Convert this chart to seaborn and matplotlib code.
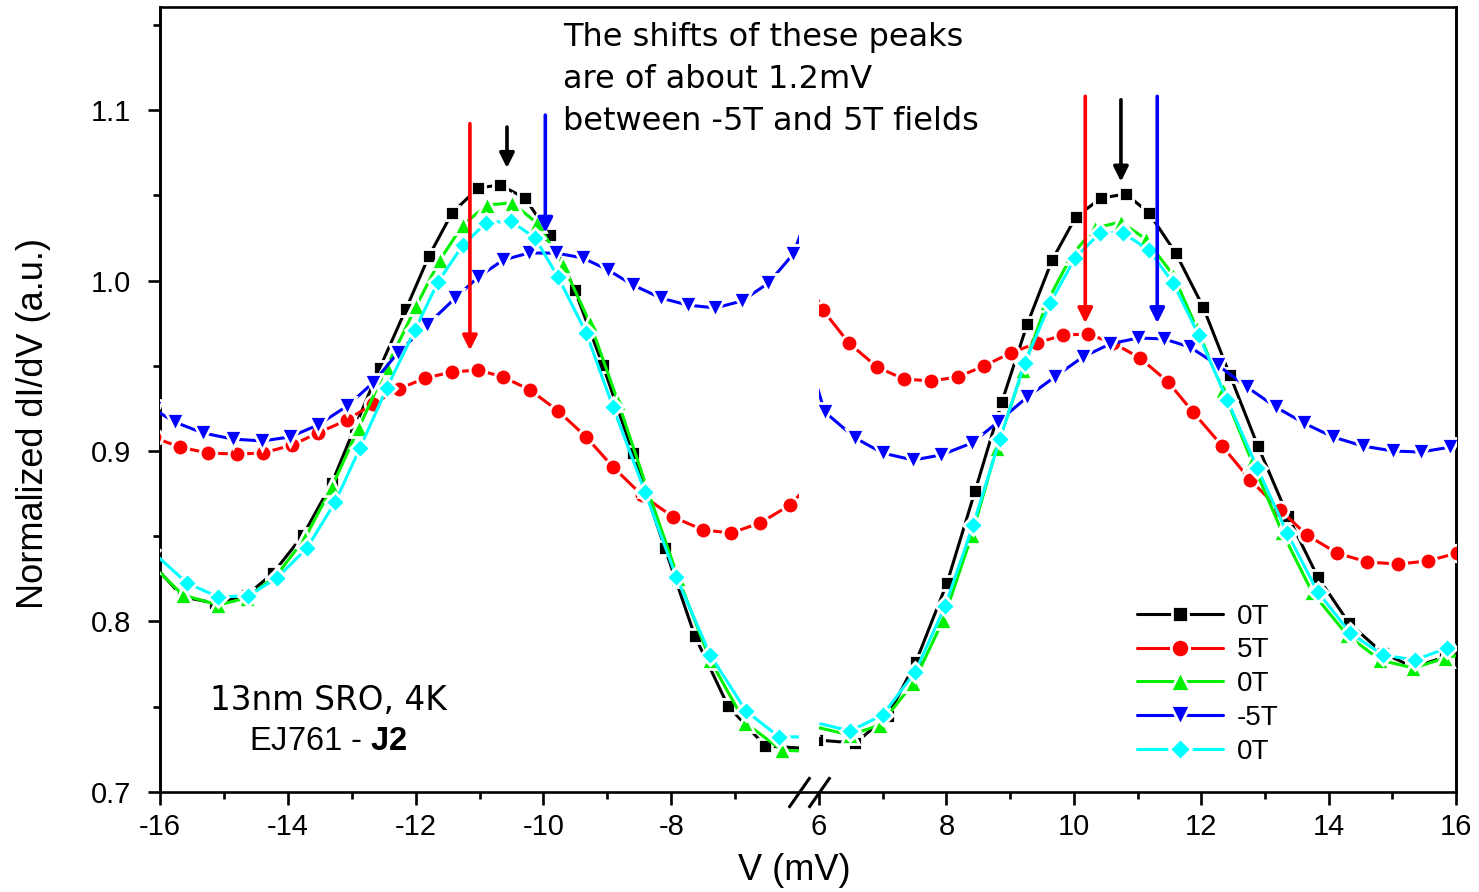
import matplotlib
matplotlib.use("Agg")
import matplotlib.pyplot as plt
import seaborn as sns
import numpy as np

# ---------------- data ----------------
# series 1: 0T (black squares)
v_black_neg = [-16.15, -15.64, -15.14, -14.64, -14.23, -13.76, -13.31, -12.95, -12.56, -12.15, -11.79, -11.43,
               -11.02, -10.68, -10.29, -9.90, -9.51, -9.07, -8.60, -8.10, -7.63, -7.11, -6.53, -5.85]
g_black_neg = [0.835, 0.8144, 0.8108, 0.8155, 0.8284, 0.8507, 0.8812, 0.914, 0.9487, 0.9833, 1.0144, 1.0396,
               1.0543, 1.056, 1.0484, 1.0267, 0.9944, 0.9504, 0.8988, 0.8431, 0.7915, 0.7504, 0.727, 0.7255]
v_black_pos = [5.97, 6.57, 7.08, 7.52, 8.01, 8.45, 8.87, 9.27, 9.66, 10.03, 10.43, 10.82, 11.18, 11.60, 12.03,
               12.45, 12.89, 13.36, 13.83, 14.32, 14.85, 15.33, 15.83, 16.25]
g_black_pos = [0.7305, 0.7287, 0.7446, 0.7762, 0.8226, 0.8765, 0.9287, 0.9745, 1.012, 1.0372, 1.0484, 1.0507,
               1.0396, 1.0161, 0.9845, 0.9446, 0.9029, 0.8619, 0.8261, 0.7991, 0.7815, 0.7733, 0.7792, 0.782]

# series 2: 5T (red circles)
v_red_neg = [-16.1, -15.69, -15.25, -14.80, -14.39, -13.93, -13.53, -13.07, -12.67, -12.26, -11.85, -11.43,
             -11.02, -10.63, -10.21, -9.77, -9.33, -8.91, -8.46, -7.97, -7.50, -7.06, -6.61, -6.14, -5.7]
g_red_neg = [0.908, 0.9023, 0.8988, 0.8982, 0.8988, 0.9035, 0.9106, 0.9182, 0.9276, 0.9364, 0.9428, 0.9463,
             0.9475, 0.9434, 0.9358, 0.9235, 0.9082, 0.8906, 0.8742, 0.8613, 0.8537, 0.8519, 0.8578, 0.8683, 0.886]
v_red_pos = [5.7, 6.06, 6.47, 6.91, 7.33, 7.76, 8.18, 8.59, 9.01, 9.42, 9.83, 10.22, 10.62, 11.04, 11.48, 11.87,
             12.33, 12.77, 13.24, 13.66, 14.13, 14.60, 15.09, 15.56, 16.02]
g_red_pos = [1.01, 0.9827, 0.9633, 0.9493, 0.9422, 0.9411, 0.9434, 0.9499, 0.9575, 0.9633, 0.968, 0.9686, 0.9633,
             0.9545, 0.9405, 0.9229, 0.9029, 0.883, 0.8654, 0.8507, 0.8402, 0.8349, 0.8337, 0.8355, 0.8402]

# series 3: 0T (green up-triangles)
v_green_neg = [-16.15, -15.64, -15.09, -14.64, -14.17, -13.73, -13.31, -12.89, -12.45, -11.99, -11.62, -11.26,
               -10.88, -10.49, -10.10, -9.69, -9.27, -8.83, -8.38, -7.89, -7.39, -6.84, -6.27, -5.7]
g_green_neg = [0.834, 0.8155, 0.8097, 0.8138, 0.8273, 0.849, 0.8789, 0.9135, 0.9493, 0.985, 1.012, 1.0326,
               1.0443, 1.0455, 1.0337, 1.009, 0.975, 0.9287, 0.8783, 0.8255, 0.7774, 0.7405, 0.7246, 0.7235]
v_green_pos = [5.85, 6.49, 6.96, 7.48, 7.95, 8.40, 8.79, 9.20, 9.58, 9.97, 10.33, 10.74, 11.13, 11.56, 11.93,
               12.34, 12.80, 13.27, 13.74, 14.29, 14.81, 15.33, 15.83, 16.25]
g_green_pos = [0.739, 0.7334, 0.7393, 0.7639, 0.8009, 0.8507, 0.9018, 0.9475, 0.9874, 1.0149, 1.0308, 1.0343,
               1.0243, 1.0032, 0.9721, 0.9358, 0.8935, 0.8525, 0.8173, 0.7921, 0.7774, 0.7727, 0.7786, 0.782]

# series 4: -5T (blue down-triangles)
v_blue_neg = [-16.1, -15.77, -15.33, -14.86, -14.40, -13.97, -13.53, -13.07, -12.67, -12.28, -11.82, -11.38,
              -11.02, -10.63, -10.23, -9.80, -9.38, -8.99, -8.60, -8.16, -7.74, -7.31, -6.89, -6.48, -6.09, -5.8]
g_blue_neg = [0.9246, 0.917, 0.9106, 0.907, 0.9059, 0.9082, 0.9152, 0.9264, 0.9399, 0.9575, 0.9739, 0.9897,
              1.002, 1.012, 1.0161, 1.0161, 1.0132, 1.0062, 0.9974, 0.9897, 0.9856, 0.9839, 0.988, 0.9985,
              1.0155, 1.045]
v_blue_pos = [5.8, 6.09, 6.57, 7.0, 7.48, 7.92, 8.40, 8.81, 9.27, 9.70, 10.14, 10.57, 11.01, 11.42, 11.82, 12.26,
              12.72, 13.17, 13.61, 14.07, 14.54, 15.01, 15.45, 15.91]
g_blue_pos = [0.959, 0.9229, 0.9076, 0.8988, 0.8947, 0.8977, 0.9047, 0.917, 0.9317, 0.9434, 0.9551, 0.9628,
              0.9663, 0.9657, 0.961, 0.9504, 0.9375, 0.9258, 0.9164, 0.9082, 0.9029, 0.9, 0.8994, 0.9023]

# series 5: 0T (cyan diamonds)
v_cyan_neg = [-16.15, -15.58, -15.09, -14.62, -14.17, -13.70, -13.26, -12.87, -12.45, -12.01, -11.65, -11.26,
              -10.90, -10.51, -10.13, -9.77, -9.33, -8.91, -8.41, -7.92, -7.39, -6.83, -6.31, -5.7]
g_cyan_neg = [0.842, 0.8226, 0.8144, 0.815, 0.8255, 0.8431, 0.870, 0.9018, 0.937, 0.971, 0.9991, 1.0208,
              1.0337, 1.0349, 1.0249, 1.002, 0.9692, 0.9258, 0.876, 0.8261, 0.7804, 0.7475, 0.7323, 0.7323]
v_cyan_pos = [5.85, 6.49, 7.0, 7.51, 7.98, 8.42, 8.84, 9.23, 9.63, 10.02, 10.41, 10.77, 11.18, 11.56, 11.96,
              12.41, 12.88, 13.35, 13.83, 14.34, 14.85, 15.36, 15.86, 16.3]
g_cyan_pos = [0.7416, 0.7358, 0.7452, 0.7704, 0.8091, 0.8566, 0.907, 0.9516, 0.9868, 1.0132, 1.0279, 1.0279,
              1.0179, 0.9985, 0.968, 0.9299, 0.89, 0.8519, 0.8173, 0.7933, 0.7804, 0.7774, 0.7845, 0.790]

labels = ["0T", "5T", "0T", "-5T", "0T"]
colors = ["#000000", "#ff0000", "#00f000", "#0000ff", "#00ffff"]
markers = ["s", "o", "^", "v", "D"]
msizes = [10.5, 12.0, 12.5, 12.5, 10.5]

neg_x = [v_black_neg, v_red_neg, v_green_neg, v_blue_neg, v_cyan_neg]
neg_y = [g_black_neg, g_red_neg, g_green_neg, g_blue_neg, g_cyan_neg]
pos_x = [v_black_pos, v_red_pos, v_green_pos, v_blue_pos, v_cyan_pos]
pos_y = [g_black_pos, g_red_pos, g_green_pos, g_blue_pos, g_cyan_pos]

# peak-shift arrows: (x, y_start, y_tip, color)
arrows_neg = [(-11.15, 1.092, 0.959, "#ff0000"), (-10.57, 1.090, 1.066, "#000000"), (-9.97, 1.097, 1.028, "#0000ff")]
arrows_pos = [(10.18, 1.108, 0.975, "#ff0000"), (10.74, 1.106, 1.058, "#000000"), (11.31, 1.108, 0.975, "#0000ff")]

xticks_neg = [-16, -14, -12, -10, -8]
xticks_pos = [6, 8, 10, 12, 14, 16]
yticks = [0.7, 0.8, 0.9, 1.0, 1.1]

# ---------------- style ----------------
sns.set_theme(style="ticks")
plt.rcParams["font.family"] = ["Liberation Sans", "DejaVu Sans"]
plt.rcParams["mathtext.fontset"] = "custom"
plt.rcParams["mathtext.rm"] = "Liberation Sans"
plt.rcParams["mathtext.bf"] = "Liberation Sans:bold"
plt.rcParams["axes.unicode_minus"] = False
for k in ("text.color", "axes.labelcolor", "xtick.color", "ytick.color", "axes.edgecolor"):
    plt.rcParams[k] = "black"

fig = plt.figure(figsize=(14.79, 8.92), dpi=100)
W, Hpx = 1479.0, 892.0
left_px, gapL_px, gapR_px, right_px = 160, 799, 819, 1456
top_px, bot_px = 7, 792
B = 1 - bot_px / Hpx
H = (bot_px - top_px) / Hpx

frame = fig.add_axes([left_px / W, B, (right_px - left_px) / W, H], zorder=0)
frame.set_xticks([]); frame.set_yticks([])
frame.set_facecolor("white")
for s in frame.spines.values():
    s.set_linewidth(1.9); s.set_color("black")

axL = fig.add_axes([left_px / W, B, (gapL_px - left_px) / W, H], zorder=2)
axR = fig.add_axes([gapR_px / W, B, (right_px - gapR_px) / W, H], zorder=2, sharey=axL)
for ax in (axL, axR):
    ax.set_facecolor("none")
    for s in ax.spines.values():
        s.set_visible(False)
        s.set_linewidth(1.9)
axL.spines["left"].set_visible(True)
axR.spines["right"].set_visible(True)

lw = 2.2
for i in range(5):
    for ax, xs, ys in ((axL, neg_x[i], neg_y[i]), (axR, pos_x[i], pos_y[i])):
        sns.lineplot(x=xs, y=ys, ax=ax, color=colors[i], marker=markers[i], markersize=msizes[i],
                     markeredgecolor="white", markeredgewidth=2.0, linewidth=lw,
                     estimator=None, sort=False, label=labels[i] if ax is axR else None,
                     legend=False, zorder=3 + i)

axL.set_xlim(-16, -6.0)
axR.set_xlim(6.0, 16)
axL.set_ylim(0.7, 0.7 + (bot_px - top_px) / 1705.0)

axL.set_xticks(xticks_neg)
axL.set_xticks(np.arange(-15, -6, 2), minor=True)
axR.set_xticks(xticks_pos)
axR.set_xticks(np.arange(7, 16, 2), minor=True)
axL.set_yticks(yticks)
axL.set_yticks([0.75, 0.85, 0.95, 1.05, 1.15], minor=True)
axL.set_yticklabels(["0.7", "0.8", "0.9", "1.0", "1.1"])

for ax in (axL, axR):
    ax.tick_params(axis="x", which="major", direction="out", length=9, width=1.9, labelsize=21, pad=6,
                   bottom=True)
    ax.tick_params(axis="x", which="minor", direction="out", length=5, width=1.9, bottom=True)
axL.tick_params(axis="y", which="major", direction="out", length=9, width=1.9, labelsize=21, pad=12, left=True)
axL.tick_params(axis="y", which="minor", direction="out", length=5, width=1.9, left=True)
axR.tick_params(axis="y", which="both", left=False, labelleft=False, right=False)
axL.set_xlabel(""); axR.set_xlabel("")
axL.set_ylabel("Normalized dI/dV (a.u.)", fontsize=26)
axL.yaxis.set_label_coords(-0.17, 0.47)
axR.set_ylabel("")

# axis break marks
for ax, xa in ((axL, 1.0), (axR, 0.0)):
    ax.plot([xa], [0], transform=ax.transAxes, marker=[(-0.7, -1), (0.7, 1)], markersize=22,
            linestyle="none", color="black", mew=2.2, clip_on=False, zorder=10)

# arrows
for ax, arr in ((axL, arrows_neg), (axR, arrows_pos)):
    for x, y0, y1, c in arr:
        ax.annotate("", xy=(x, y1), xytext=(x, y0),
                    arrowprops=dict(arrowstyle="-|>", color=c, lw=2.6, mutation_scale=22,
                                    shrinkA=0, shrinkB=0), zorder=12)

# texts
fig.text(794 / W, 1 - 870 / Hpx, "V (mV)", fontsize=26, ha="center", va="center")
fig.text(563 / W, 1 - 22 / Hpx, "The shifts of these peaks\nare of about 1.2mV\nbetween -5T and 5T fields",
         fontsize=23, ha="left", va="top", linespacing=1.45, family=["DejaVu Sans"])
fig.text(328 / W, 1 - 700 / Hpx, "13nm SRO, 4K", fontsize=23.5, ha="center", va="center", family=["DejaVu Sans"])
fig.text(328 / W, 1 - 742 / Hpx, r"EJ761 - $\mathbf{J2}$", fontsize=23.5, ha="center", va="center")

# legend
handles, labs = axR.get_legend_handles_labels()
leg = axR.legend(handles, labs, loc="upper left", bbox_to_anchor=(0.499, 0.24), frameon=False,
                 fontsize=20, handlelength=3.1, handletextpad=0.5, labelspacing=0.28, borderpad=0,
                 borderaxespad=0, markerscale=1.1)

fig.savefig("out.png", dpi=100)
